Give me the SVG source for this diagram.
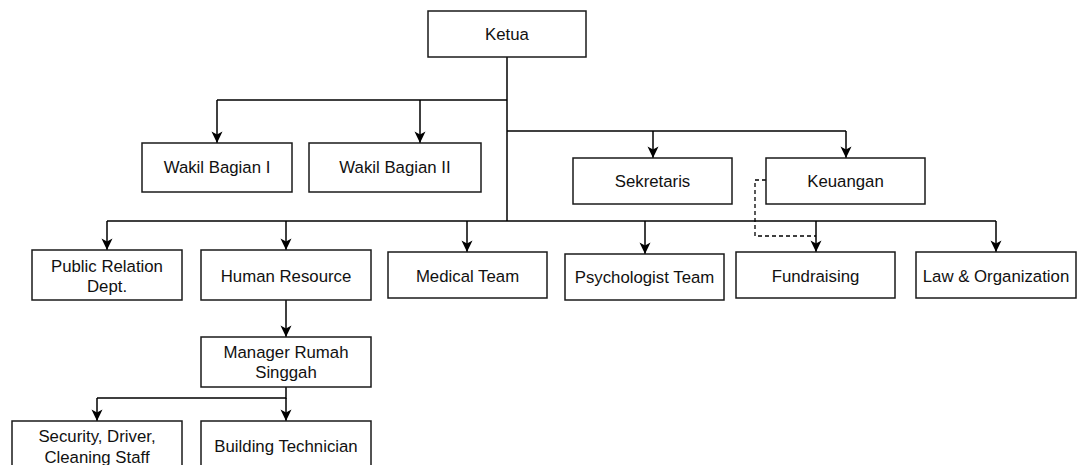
<svg xmlns="http://www.w3.org/2000/svg" width="1078" height="465" viewBox="0 0 1078 465">
<defs>
<marker id="arr" markerUnits="userSpaceOnUse" markerWidth="13" markerHeight="13" viewBox="0 0 13 13" refX="12" refY="6.5" orient="auto">
<path d="M0.5,1 L12,6.5 L0.5,12 L3.5,6.5 Z" fill="#000"/>
</marker>
<style>
.box{fill:#fff;stroke:#1a1a1a;stroke-width:1.5}
.t{font-family:"Liberation Sans",Arial,sans-serif;font-size:16.8px;fill:#111;text-anchor:middle;dominant-baseline:central}
.e{fill:none;stroke:#000;stroke-width:1.5}
.a{fill:none;stroke:#000;stroke-width:1.5;marker-end:url(#arr)}
.d{fill:none;stroke:#000;stroke-width:1.3;stroke-dasharray:4,3}
</style>
</defs>
<rect width="1078" height="465" fill="#fff"/>
<g id="connectors">
<path class="e" d="M507,57 V221"/>
<path class="e" d="M507,100 H217"/>
<path class="a" d="M217,100 V143"/>
<path class="a" d="M420,100 V143"/>
<path class="e" d="M507,131 H846"/>
<path class="a" d="M653,131 V158"/>
<path class="a" d="M846,131 V158"/>
<path class="e" d="M107,221 H996"/>
<path class="a" d="M107,221 V250"/>
<path class="a" d="M286,221 V250"/>
<path class="a" d="M467,221 V252"/>
<path class="a" d="M645,221 V254"/>
<path class="a" d="M816,221 V252"/>
<path class="a" d="M996,221 V252"/>
<path class="a" d="M286,300 V337"/>
<path class="e" d="M286,387 V398 H97"/>
<path class="a" d="M97,398 V421"/>
<path class="a" d="M286,398 V421"/>
<path class="d" d="M766,180 H755 V236 H816"/>
</g>
<g id="ketua"><rect class="box" x="428" y="11" width="158" height="46"/><text class="t" x="507" y="34">Ketua</text></g>
<g id="wakil1"><rect class="box" x="142" y="143" width="150" height="49"/><text class="t" x="217" y="167.5">Wakil Bagian I</text></g>
<g id="wakil2"><rect class="box" x="309" y="143" width="172" height="49"/><text class="t" x="395" y="167.5">Wakil Bagian II</text></g>
<g id="sekretaris"><rect class="box" x="573" y="158" width="159" height="46"/><text class="t" x="652.5" y="181">Sekretaris</text></g>
<g id="keuangan"><rect class="box" x="766" y="158" width="159" height="46"/><text class="t" x="845.5" y="181">Keuangan</text></g>
<g id="pr"><rect class="box" x="32" y="250" width="150" height="50"/><text class="t" x="107" y="266">Public Relation</text><text class="t" x="107" y="286">Dept.</text></g>
<g id="hr"><rect class="box" x="201" y="250" width="170" height="50"/><text class="t" x="286" y="276">Human Resource</text></g>
<g id="medical"><rect class="box" x="388" y="252" width="159" height="46"/><text class="t" x="467.5" y="276">Medical Team</text></g>
<g id="psych"><rect class="box" x="565" y="254" width="159" height="46"/><text class="t" x="644.5" y="277">Psychologist Team</text></g>
<g id="fundraising"><rect class="box" x="736" y="252" width="159" height="46"/><text class="t" x="815.5" y="276">Fundraising</text></g>
<g id="law"><rect class="box" x="916" y="252" width="160" height="46"/><text class="t" x="996" y="276">Law &amp; Organization</text></g>
<g id="manager"><rect class="box" x="201" y="337" width="170" height="50"/><text class="t" x="286" y="352">Manager Rumah</text><text class="t" x="286" y="372">Singgah</text></g>
<g id="security"><rect class="box" x="12" y="421" width="170" height="60"/><text class="t" x="97" y="436.5">Security, Driver,</text><text class="t" x="97" y="457.5">Cleaning Staff</text></g>
<g id="building"><rect class="box" x="201" y="421" width="170" height="60"/><text class="t" x="286" y="446">Building Technician</text></g>
</svg>
